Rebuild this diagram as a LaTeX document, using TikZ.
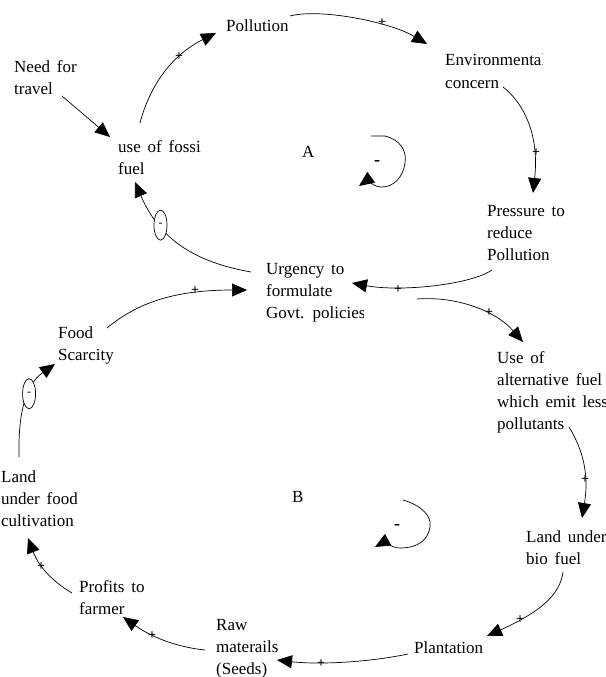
\documentclass[tikz,border=0pt]{standalone}
\usepackage{fontspec}
\setmainfont{Liberation Serif}[WordSpace=1.6]
\usetikzlibrary{arrows.meta,shapes.geometric}
\newcommand{\ml}[1]{\begin{tabular}[t]{@{}l@{}}#1\end{tabular}}
\newcommand{\cliptext}[5]{%
  \begin{scope}
    \clip (#2-3,#3-25) rectangle (#4,#3+80);
    \node[txt] (#1) at (#2,#3) {\ml{#5}};
  \end{scope}}
\tikzset{
  txt/.style={anchor=base west, inner sep=0pt, font=\fontsize{17}{22.3}\selectfont},
  conn/.style={draw, line width=0.7pt, -{Triangle[length=15pt,width=13pt]}},
  sgn/.style={inner sep=0.5pt, font=\fontsize{14}{14}\selectfont\bfseries},
  neg/.style={draw, ellipse, fill=white, inner sep=0pt, minimum width=13pt, minimum height=30pt, line width=0.7pt, font=\fontsize{12}{12}\selectfont},
  loopsign/.style={inner sep=0pt, font=\fontsize{18}{18}\selectfont\bfseries},
}
\begin{document}
\begin{tikzpicture}[x=1pt,y=-1pt]
\useasboundingbox[fill=white] (0,0) rectangle (605,677);

% text nodes
\cliptext{need}{14}{72}{200}{Need for\\travel}
\cliptext{fuel}{118}{152}{200}{use of fossil\\fuel}
\cliptext{poll}{226}{32}{287}{Pollution}
\cliptext{env}{445}{66}{542}{Environmental\\concern}
\cliptext{press}{487}{216}{568}{Pressure to\\reduce\\Pollution}
\cliptext{urg}{266}{274}{363}{Urgency to\\formulate\\Govt. policies}
\cliptext{food}{58}{338}{115}{Food\\Scarcity}
\cliptext{landfood}{1}{482}{77}{Land\\under food\\cultivation}
\cliptext{profit}{79}{592}{143}{Profits to\\farmer}
\cliptext{raw}{216}{630}{300}{Raw\\materails\\(Seeds)}
\cliptext{plant}{414}{653}{482}{Plantation}
\cliptext{landbio}{526}{542}{605}{Land under\\bio fuel}
\cliptext{alt}{497}{363}{605}{Use of\\alternative fuel\\which emit less\\pollutants}
\node[txt] (A) at (302,157) {A};
\node[txt] (B) at (292,502) {B};

% connector end points
\coordinate (need-o) at (62,96);   \coordinate (fuel-i) at (110,137);
\coordinate (fuel-o) at (140,123); \coordinate (poll-i) at (216,33);
\coordinate (poll-o) at (290,16);  \coordinate (env-i) at (427,44);
\coordinate (env-o) at (503,87);   \coordinate (press-i) at (533,193);
\coordinate (press-o) at (492,270);\coordinate (urg-i1) at (352,283);
\coordinate (urg-o1) at (251,272); \coordinate (fuel-i2) at (135,182);
\coordinate (urg-o2) at (417,299); \coordinate (alt-i) at (523,342);
\coordinate (alt-o) at (569,427);  \coordinate (lb-i) at (582,518);
\coordinate (lb-o) at (563,572);   \coordinate (plant-i) at (487,636);
\coordinate (plant-o) at (408,654);\coordinate (raw-i) at (277,660);
\coordinate (raw-o) at (205,650);  \coordinate (prof-i) at (123,617);
\coordinate (prof-o) at (72,593);  \coordinate (lf-i) at (28,538);
\coordinate (lf-o) at (19,457);    \coordinate (food-i) at (55,364);
\coordinate (food-o) at (107,328); \coordinate (urg-i2) at (247,290);

% connectors
\draw[conn] (need-o) -- (fuel-i);
\draw[conn] (fuel-o) .. controls (150,85) and (172,55) .. (poll-i);
\draw[conn] (poll-o) .. controls (320,8) and (390,22) .. (env-i);
\draw[conn] (env-o) .. controls (520,100) and (540,130) .. (press-i);
\draw[conn] (press-o) .. controls (470,285) and (400,292) .. (urg-i1);
\draw[conn] (urg-o1) .. controls (195,262) and (160,240) .. (fuel-i2)
   node[neg, pos=0.7] (n1) {-};
\draw[conn] (urg-o2) .. controls (455,296) and (495,310) .. (alt-i);
\draw[conn] (alt-o) .. controls (580,445) and (590,470) .. (lb-i);
\draw[conn] (lb-o) .. controls (560,595) and (540,612) .. (plant-i);
\draw[conn] (plant-o) .. controls (370,662) and (320,665) .. (raw-i);
\draw[conn] (raw-o) .. controls (175,647) and (150,636) .. (prof-i);
\draw[conn] (prof-o) .. controls (58,585) and (40,570) .. (lf-i);
\draw[conn] (lf-o) .. controls (18,415) and (25,385) .. (food-i)
   node[neg, pos=0.6] (n2) {-};
\draw[conn] (food-o) .. controls (135,305) and (170,290) .. (urg-i2);

% polarity signs
\node[sgn] (s1) at (179,57) {+};
\node[sgn] (s2) at (382,23) {+};
\node[sgn] (s3) at (536,153) {+};
\node[sgn] (s4) at (398,290) {+};
\node[sgn] (s5) at (489,313) {+};
\node[sgn] (s6) at (585,480) {+};
\node[sgn] (s7) at (520,620) {+};
\node[sgn] (s8) at (321,664) {+};
\node[sgn] (s9) at (152,636) {+};
\node[sgn] (s10) at (41,567) {+};
\node[sgn] (s11) at (195,291) {+};

% loop symbols
\draw[conn] (371,136) -- (385,136) .. controls (400,140) and (407,150) .. (405,163)
   .. controls (403,178) and (393,187) .. (382,187)
   .. controls (374,187) and (366,181) .. (359,186);
\node[loopsign] (la) at (377,163) {-};
\draw[conn] (403,500) .. controls (420,505) and (432,515) .. (430,527)
   .. controls (428,540) and (418,548) .. (400,548)
   .. controls (392,548) and (384,542) .. (375,547);
\node[loopsign] (lb) at (397,527) {-};
\end{tikzpicture}
\end{document}
